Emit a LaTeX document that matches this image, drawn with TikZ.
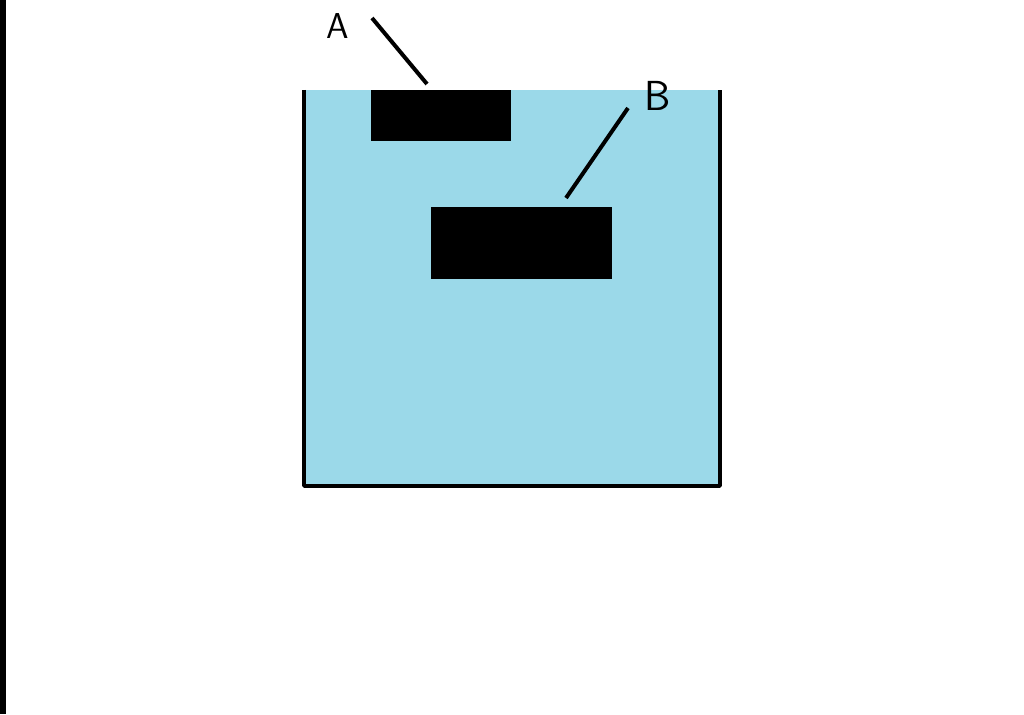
\documentclass[tikz,border=0pt]{standalone}
\usepackage{tikz}
\definecolor{water}{RGB}{155,217,233}
\begin{document}
\begin{tikzpicture}[x=1pt, y=-1pt, line join=round]
\useasboundingbox (0,0) rectangle (1024,714);
\fill[black] (0,0) rectangle (6,714);
\fill[water] (304,90) rectangle (720,486);
\draw[line width=3.5pt] (304,90)--(304,486)--(720,486)--(720,90);
\node[fill=black, minimum width=140pt, minimum height=51pt, inner sep=0pt] (blockA) at (441,115.5) {};
\node[fill=black, minimum width=181pt, minimum height=72pt, inner sep=0pt] (blockB) at (521.5,243) {};
\coordinate (a1) at (372,18);
\coordinate (a2) at (427,84);
\coordinate (b1) at (628,108);
\coordinate (b2) at (566,198);
\draw[line width=4pt] (a1)--(a2);
\draw[line width=4pt] (b1)--(b2);
\node[font=\sffamily\fontsize{36}{36}\selectfont, inner sep=0pt] (labA) at (338,26) {A};
\node[font=\sffamily\fontsize{42}{42}\selectfont, inner sep=0pt] (labB) at (658,96) {B};
\end{tikzpicture}
\end{document}
